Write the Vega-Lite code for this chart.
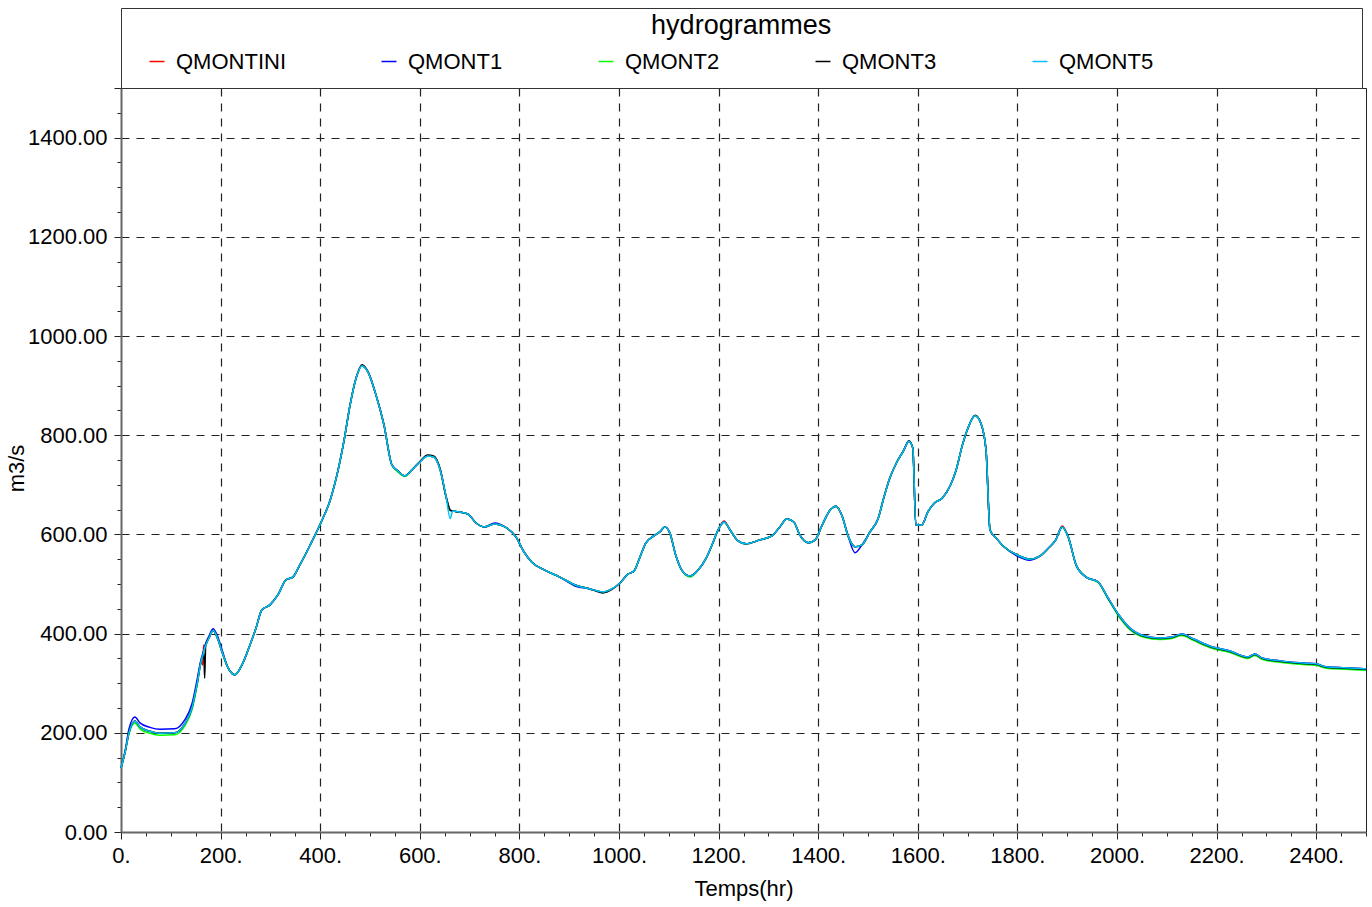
{
  "$schema": "https://vega.github.io/schema/vega-lite/v6.json",
  "width": 1245,
  "height": 744,
  "autosize": {"type": "none"},
  "padding": {"left": 121, "top": 88, "right": 6, "bottom": 75},
  "background": "white",
  "data": {"values": [
    {"t":0,"QMONTINI":129,"QMONT1":129,"QMONT2":129,"QMONT3":129,"QMONT5":129},
    {"t":8,"QMONTINI":160,"QMONT1":162,"QMONT2":160,"QMONT3":160,"QMONT5":160},
    {"t":16,"QMONTINI":200,"QMONT1":208,"QMONT2":198,"QMONT3":200,"QMONT5":200},
    {"t":28,"QMONTINI":224,"QMONT1":232,"QMONT2":220,"QMONT3":224,"QMONT5":224},
    {"t":38,"QMONTINI":212,"QMONT1":220,"QMONT2":208,"QMONT3":212,"QMONT5":212},
    {"t":58,"QMONTINI":203,"QMONT1":211,"QMONT2":199,"QMONT3":203,"QMONT5":203},
    {"t":78,"QMONTINI":199,"QMONT1":207,"QMONT2":195,"QMONT3":199,"QMONT5":199},
    {"t":108,"QMONTINI":200,"QMONT1":208,"QMONT2":196,"QMONT3":200,"QMONT5":200},
    {"t":128,"QMONTINI":218,"QMONT1":226,"QMONT2":214,"QMONT3":218,"QMONT5":218},
    {"t":143,"QMONTINI":252,"QMONT1":260,"QMONT2":248,"QMONT3":252,"QMONT5":252},
    {"t":153,"QMONTINI":300,"QMONT1":308,"QMONT2":296,"QMONT3":300,"QMONT5":300},
    {"t":161,"QMONTINI":345,"QMONT1":349,"QMONT2":345,"QMONT3":345,"QMONT5":345},
    {"t":164,"QMONTINI":336,"QMONT1":359,"QMONT2":355,"QMONT3":355,"QMONT5":355},
    {"t":166,"QMONTINI":377,"QMONT1":366,"QMONT2":362,"QMONT3":362,"QMONT5":362},
    {"t":168,"QMONTINI":370,"QMONT1":374,"QMONT2":370,"QMONT3":310,"QMONT5":370},
    {"t":170,"QMONTINI":376,"QMONT1":380,"QMONT2":376,"QMONT3":376,"QMONT5":376},
    {"t":177,"QMONTINI":392,"QMONT1":396,"QMONT2":392,"QMONT3":392,"QMONT5":392},
    {"t":185,"QMONTINI":406,"QMONT1":410,"QMONT2":406,"QMONT3":406,"QMONT5":406},
    {"t":193,"QMONTINI":393,"QMONT1":397,"QMONT2":393,"QMONT3":393,"QMONT5":393},
    {"t":203,"QMONTINI":363,"QMONT1":367,"QMONT2":363,"QMONT3":363,"QMONT5":363},
    {"t":215,"QMONTINI":331,"QMONT1":331,"QMONT2":331,"QMONT3":331,"QMONT5":331},
    {"t":229,"QMONTINI":317,"QMONT1":317,"QMONT2":317,"QMONT3":317,"QMONT5":317},
    {"t":243,"QMONTINI":337,"QMONT1":337,"QMONT2":337,"QMONT3":337,"QMONT5":337},
    {"t":259,"QMONTINI":377,"QMONT1":377,"QMONT2":377,"QMONT3":377,"QMONT5":377},
    {"t":271,"QMONTINI":411,"QMONT1":411,"QMONT2":411,"QMONT3":411,"QMONT5":411},
    {"t":283,"QMONTINI":448,"QMONT1":448,"QMONT2":448,"QMONT3":448,"QMONT5":448},
    {"t":299,"QMONTINI":458,"QMONT1":458,"QMONT2":458,"QMONT3":458,"QMONT5":458},
    {"t":315,"QMONTINI":478,"QMONT1":478,"QMONT2":478,"QMONT3":478,"QMONT5":478},
    {"t":331,"QMONTINI":508,"QMONT1":508,"QMONT2":508,"QMONT3":508,"QMONT5":508},
    {"t":345,"QMONTINI":514,"QMONT1":514,"QMONT2":514,"QMONT3":514,"QMONT5":514},
    {"t":359,"QMONTINI":538,"QMONT1":538,"QMONT2":538,"QMONT3":538,"QMONT5":538},
    {"t":380,"QMONTINI":579,"QMONT1":579,"QMONT2":579,"QMONT3":579,"QMONT5":579},
    {"t":402,"QMONTINI":625,"QMONT1":625,"QMONT2":625,"QMONT3":625,"QMONT5":625},
    {"t":420,"QMONTINI":669,"QMONT1":669,"QMONT2":669,"QMONT3":669,"QMONT5":669},
    {"t":436,"QMONTINI":730,"QMONT1":730,"QMONT2":730,"QMONT3":730,"QMONT5":730},
    {"t":448,"QMONTINI":790,"QMONT1":790,"QMONT2":790,"QMONT3":790,"QMONT5":790},
    {"t":460,"QMONTINI":861,"QMONT1":861,"QMONT2":861,"QMONT3":861,"QMONT5":861},
    {"t":472,"QMONTINI":915,"QMONT1":915,"QMONT2":915,"QMONT3":915,"QMONT5":915},
    {"t":484,"QMONTINI":940,"QMONT1":940,"QMONT2":940,"QMONT3":942,"QMONT5":940},
    {"t":496,"QMONTINI":927,"QMONT1":927,"QMONT2":927,"QMONT3":928,"QMONT5":927},
    {"t":512,"QMONTINI":881,"QMONT1":881,"QMONT2":881,"QMONT3":881,"QMONT5":881},
    {"t":528,"QMONTINI":821,"QMONT1":821,"QMONT2":821,"QMONT3":821,"QMONT5":821},
    {"t":544,"QMONTINI":740,"QMONT1":740,"QMONT2":740,"QMONT3":740,"QMONT5":740},
    {"t":556,"QMONTINI":728,"QMONT1":728,"QMONT2":726,"QMONT3":728,"QMONT5":728},
    {"t":570,"QMONTINI":718,"QMONT1":718,"QMONT2":717,"QMONT3":718,"QMONT5":718},
    {"t":584,"QMONTINI":730,"QMONT1":730,"QMONT2":730,"QMONT3":730,"QMONT5":730},
    {"t":600,"QMONTINI":746,"QMONT1":746,"QMONT2":746,"QMONT3":747,"QMONT5":746},
    {"t":616,"QMONTINI":758,"QMONT1":758,"QMONT2":758,"QMONT3":760,"QMONT5":758},
    {"t":628,"QMONTINI":756,"QMONT1":756,"QMONT2":756,"QMONT3":758,"QMONT5":756},
    {"t":641,"QMONTINI":730,"QMONT1":730,"QMONT2":730,"QMONT3":732,"QMONT5":730},
    {"t":653,"QMONTINI":675,"QMONT1":675,"QMONT2":675,"QMONT3":675,"QMONT5":675},
    {"t":661,"QMONTINI":649,"QMONT1":649,"QMONT2":649,"QMONT3":649,"QMONT5":632},
    {"t":666,"QMONTINI":647,"QMONT1":647,"QMONT2":647,"QMONT3":647,"QMONT5":647},
    {"t":681,"QMONTINI":645,"QMONT1":645,"QMONT2":645,"QMONT3":645,"QMONT5":645},
    {"t":697,"QMONTINI":641,"QMONT1":641,"QMONT2":641,"QMONT3":641,"QMONT5":641},
    {"t":713,"QMONTINI":623,"QMONT1":623,"QMONT2":623,"QMONT3":623,"QMONT5":623},
    {"t":729,"QMONTINI":615,"QMONT1":615,"QMONT2":615,"QMONT3":615,"QMONT5":615},
    {"t":751,"QMONTINI":621,"QMONT1":623,"QMONT2":621,"QMONT3":621,"QMONT5":621},
    {"t":771,"QMONTINI":615,"QMONT1":615,"QMONT2":615,"QMONT3":615,"QMONT5":615},
    {"t":793,"QMONTINI":595,"QMONT1":595,"QMONT2":595,"QMONT3":595,"QMONT5":595},
    {"t":809,"QMONTINI":565,"QMONT1":565,"QMONT2":565,"QMONT3":565,"QMONT5":565},
    {"t":825,"QMONTINI":544,"QMONT1":544,"QMONT2":544,"QMONT3":544,"QMONT5":544},
    {"t":851,"QMONTINI":528,"QMONT1":528,"QMONT2":528,"QMONT3":528,"QMONT5":528},
    {"t":881,"QMONTINI":514,"QMONT1":514,"QMONT2":514,"QMONT3":514,"QMONT5":514},
    {"t":912,"QMONTINI":498,"QMONT1":496,"QMONT2":498,"QMONT3":498,"QMONT5":498},
    {"t":942,"QMONTINI":490,"QMONT1":490,"QMONT2":490,"QMONT3":490,"QMONT5":490},
    {"t":968,"QMONTINI":484,"QMONT1":484,"QMONT2":484,"QMONT3":482,"QMONT5":484},
    {"t":986,"QMONTINI":490,"QMONT1":490,"QMONT2":490,"QMONT3":489,"QMONT5":490},
    {"t":1002,"QMONTINI":502,"QMONT1":502,"QMONT2":502,"QMONT3":502,"QMONT5":502},
    {"t":1018,"QMONTINI":520,"QMONT1":520,"QMONT2":520,"QMONT3":520,"QMONT5":520},
    {"t":1030,"QMONTINI":526,"QMONT1":526,"QMONT2":526,"QMONT3":526,"QMONT5":526},
    {"t":1042,"QMONTINI":554,"QMONT1":554,"QMONT2":554,"QMONT3":554,"QMONT5":554},
    {"t":1054,"QMONTINI":583,"QMONT1":583,"QMONT2":583,"QMONT3":583,"QMONT5":583},
    {"t":1070,"QMONTINI":597,"QMONT1":597,"QMONT2":597,"QMONT3":597,"QMONT5":597},
    {"t":1082,"QMONTINI":605,"QMONT1":605,"QMONT2":605,"QMONT3":605,"QMONT5":605},
    {"t":1092,"QMONTINI":615,"QMONT1":615,"QMONT2":615,"QMONT3":615,"QMONT5":615},
    {"t":1102,"QMONTINI":603,"QMONT1":603,"QMONT2":603,"QMONT3":603,"QMONT5":603},
    {"t":1114,"QMONTINI":558,"QMONT1":558,"QMONT2":558,"QMONT3":558,"QMONT5":558},
    {"t":1126,"QMONTINI":528,"QMONT1":528,"QMONT2":528,"QMONT3":528,"QMONT5":528},
    {"t":1143,"QMONTINI":516,"QMONT1":516,"QMONT2":514,"QMONT3":516,"QMONT5":516},
    {"t":1159,"QMONTINI":528,"QMONT1":528,"QMONT2":528,"QMONT3":528,"QMONT5":528},
    {"t":1175,"QMONTINI":552,"QMONT1":552,"QMONT2":552,"QMONT3":552,"QMONT5":552},
    {"t":1187,"QMONTINI":579,"QMONT1":579,"QMONT2":579,"QMONT3":579,"QMONT5":579},
    {"t":1199,"QMONTINI":609,"QMONT1":609,"QMONT2":609,"QMONT3":609,"QMONT5":609},
    {"t":1211,"QMONTINI":627,"QMONT1":625,"QMONT2":625,"QMONT3":625,"QMONT5":625},
    {"t":1223,"QMONTINI":609,"QMONT1":609,"QMONT2":609,"QMONT3":609,"QMONT5":609},
    {"t":1239,"QMONTINI":587,"QMONT1":587,"QMONT2":587,"QMONT3":587,"QMONT5":587},
    {"t":1255,"QMONTINI":581,"QMONT1":581,"QMONT2":581,"QMONT3":581,"QMONT5":581},
    {"t":1283,"QMONTINI":589,"QMONT1":589,"QMONT2":589,"QMONT3":589,"QMONT5":589},
    {"t":1307,"QMONTINI":597,"QMONT1":597,"QMONT2":597,"QMONT3":597,"QMONT5":597},
    {"t":1323,"QMONTINI":615,"QMONT1":615,"QMONT2":615,"QMONT3":615,"QMONT5":615},
    {"t":1337,"QMONTINI":631,"QMONT1":631,"QMONT2":631,"QMONT3":631,"QMONT5":631},
    {"t":1351,"QMONTINI":625,"QMONT1":625,"QMONT2":625,"QMONT3":625,"QMONT5":625},
    {"t":1363,"QMONTINI":599,"QMONT1":599,"QMONT2":599,"QMONT3":599,"QMONT5":599},
    {"t":1380,"QMONTINI":583,"QMONT1":583,"QMONT2":583,"QMONT3":583,"QMONT5":583},
    {"t":1394,"QMONTINI":589,"QMONT1":589,"QMONT2":589,"QMONT3":589,"QMONT5":589},
    {"t":1408,"QMONTINI":619,"QMONT1":619,"QMONT2":619,"QMONT3":619,"QMONT5":619},
    {"t":1424,"QMONTINI":649,"QMONT1":649,"QMONT2":649,"QMONT3":649,"QMONT5":649},
    {"t":1436,"QMONTINI":657,"QMONT1":657,"QMONT2":657,"QMONT3":657,"QMONT5":657},
    {"t":1448,"QMONTINI":637,"QMONT1":637,"QMONT2":637,"QMONT3":637,"QMONT5":637},
    {"t":1460,"QMONTINI":597,"QMONT1":597,"QMONT2":597,"QMONT3":597,"QMONT5":597},
    {"t":1474,"QMONTINI":575,"QMONT1":563,"QMONT2":575,"QMONT3":575,"QMONT5":575},
    {"t":1488,"QMONTINI":579,"QMONT1":579,"QMONT2":579,"QMONT3":579,"QMONT5":579},
    {"t":1504,"QMONTINI":605,"QMONT1":605,"QMONT2":605,"QMONT3":605,"QMONT5":605},
    {"t":1520,"QMONTINI":631,"QMONT1":631,"QMONT2":631,"QMONT3":631,"QMONT5":631},
    {"t":1532,"QMONTINI":675,"QMONT1":675,"QMONT2":675,"QMONT3":675,"QMONT5":675},
    {"t":1544,"QMONTINI":714,"QMONT1":714,"QMONT2":714,"QMONT3":714,"QMONT5":714},
    {"t":1558,"QMONTINI":746,"QMONT1":746,"QMONT2":746,"QMONT3":746,"QMONT5":746},
    {"t":1572,"QMONTINI":770,"QMONT1":770,"QMONT2":770,"QMONT3":770,"QMONT5":770},
    {"t":1582,"QMONTINI":788,"QMONT1":788,"QMONT2":788,"QMONT3":789,"QMONT5":788},
    {"t":1590,"QMONTINI":774,"QMONT1":774,"QMONT2":774,"QMONT3":774,"QMONT5":774},
    {"t":1596,"QMONTINI":619,"QMONT1":619,"QMONT2":619,"QMONT3":619,"QMONT5":619},
    {"t":1608,"QMONTINI":619,"QMONT1":619,"QMONT2":619,"QMONT3":619,"QMONT5":619},
    {"t":1620,"QMONTINI":645,"QMONT1":645,"QMONT2":645,"QMONT3":645,"QMONT5":645},
    {"t":1633,"QMONTINI":663,"QMONT1":663,"QMONT2":663,"QMONT3":663,"QMONT5":663},
    {"t":1649,"QMONTINI":673,"QMONT1":673,"QMONT2":673,"QMONT3":673,"QMONT5":673},
    {"t":1665,"QMONTINI":698,"QMONT1":698,"QMONT2":698,"QMONT3":698,"QMONT5":698},
    {"t":1677,"QMONTINI":730,"QMONT1":730,"QMONT2":730,"QMONT3":730,"QMONT5":730},
    {"t":1689,"QMONTINI":778,"QMONT1":778,"QMONT2":778,"QMONT3":778,"QMONT5":778},
    {"t":1701,"QMONTINI":815,"QMONT1":815,"QMONT2":815,"QMONT3":815,"QMONT5":815},
    {"t":1715,"QMONTINI":839,"QMONT1":839,"QMONT2":839,"QMONT3":840,"QMONT5":839},
    {"t":1727,"QMONTINI":823,"QMONT1":823,"QMONT2":823,"QMONT3":823,"QMONT5":823},
    {"t":1737,"QMONTINI":770,"QMONT1":770,"QMONT2":770,"QMONT3":770,"QMONT5":770},
    {"t":1745,"QMONTINI":609,"QMONT1":609,"QMONT2":609,"QMONT3":609,"QMONT5":609},
    {"t":1757,"QMONTINI":593,"QMONT1":593,"QMONT2":593,"QMONT3":593,"QMONT5":593},
    {"t":1773,"QMONTINI":575,"QMONT1":575,"QMONT2":575,"QMONT3":575,"QMONT5":575},
    {"t":1797,"QMONTINI":560,"QMONT1":558,"QMONT2":560,"QMONT3":560,"QMONT5":560},
    {"t":1825,"QMONTINI":550,"QMONT1":548,"QMONT2":550,"QMONT3":550,"QMONT5":550},
    {"t":1845,"QMONTINI":556,"QMONT1":556,"QMONT2":556,"QMONT3":556,"QMONT5":556},
    {"t":1861,"QMONTINI":571,"QMONT1":571,"QMONT2":571,"QMONT3":571,"QMONT5":571},
    {"t":1877,"QMONTINI":589,"QMONT1":589,"QMONT2":589,"QMONT3":589,"QMONT5":589},
    {"t":1890,"QMONTINI":617,"QMONT1":615,"QMONT2":615,"QMONT3":615,"QMONT5":615},
    {"t":1902,"QMONTINI":595,"QMONT1":595,"QMONT2":595,"QMONT3":595,"QMONT5":595},
    {"t":1918,"QMONTINI":538,"QMONT1":538,"QMONT2":538,"QMONT3":538,"QMONT5":538},
    {"t":1938,"QMONTINI":514,"QMONT1":514,"QMONT2":514,"QMONT3":514,"QMONT5":514},
    {"t":1962,"QMONTINI":504,"QMONT1":504,"QMONT2":503,"QMONT3":504,"QMONT5":504},
    {"t":1982,"QMONTINI":472,"QMONT1":472,"QMONT2":470,"QMONT3":471,"QMONT5":472},
    {"t":2002,"QMONTINI":440,"QMONT1":440,"QMONT2":437,"QMONT3":439,"QMONT5":440},
    {"t":2026,"QMONTINI":411,"QMONT1":411,"QMONT2":408,"QMONT3":410,"QMONT5":411},
    {"t":2056,"QMONTINI":395,"QMONT1":395,"QMONT2":392,"QMONT3":394,"QMONT5":395},
    {"t":2086,"QMONTINI":391,"QMONT1":391,"QMONT2":388,"QMONT3":390,"QMONT5":391},
    {"t":2110,"QMONTINI":393,"QMONT1":393,"QMONT2":390,"QMONT3":392,"QMONT5":393},
    {"t":2130,"QMONTINI":399,"QMONT1":399,"QMONT2":396,"QMONT3":398,"QMONT5":399},
    {"t":2154,"QMONTINI":389,"QMONT1":389,"QMONT2":386,"QMONT3":388,"QMONT5":389},
    {"t":2186,"QMONTINI":375,"QMONT1":375,"QMONT2":372,"QMONT3":374,"QMONT5":375},
    {"t":2227,"QMONTINI":365,"QMONT1":365,"QMONT2":362,"QMONT3":364,"QMONT5":365},
    {"t":2263,"QMONTINI":353,"QMONT1":353,"QMONT2":350,"QMONT3":352,"QMONT5":353},
    {"t":2277,"QMONTINI":359,"QMONT1":359,"QMONT2":356,"QMONT3":358,"QMONT5":359},
    {"t":2291,"QMONTINI":351,"QMONT1":351,"QMONT2":348,"QMONT3":350,"QMONT5":351},
    {"t":2327,"QMONTINI":345,"QMONT1":345,"QMONT2":342,"QMONT3":344,"QMONT5":345},
    {"t":2367,"QMONTINI":341,"QMONT1":341,"QMONT2":338,"QMONT3":340,"QMONT5":341},
    {"t":2400,"QMONTINI":339,"QMONT1":339,"QMONT2":336,"QMONT3":338,"QMONT5":339},
    {"t":2420,"QMONTINI":333,"QMONT1":333,"QMONT2":330,"QMONT3":332,"QMONT5":333},
    {"t":2458,"QMONTINI":331,"QMONT1":331,"QMONT2":328,"QMONT3":330,"QMONT5":331},
    {"t":2500,"QMONTINI":329,"QMONT1":329,"QMONT2":326,"QMONT3":328,"QMONT5":329}
  ]},
  "resolve": {"axis": {"x": "independent", "y": "independent"}},
  "layer": [
    {
      "transform": [{"fold": ["QMONTINI", "QMONT1", "QMONT2", "QMONT3", "QMONT5"], "as": ["serie", "Q"]}],
      "mark": {"type": "line", "strokeWidth": 1.5, "interpolate": "monotone"},
      "encoding": {
        "x": {
          "field": "t", "type": "quantitative",
          "scale": {"domain": [0, 2500], "nice": false, "zero": false},
          "axis": {
            "orient": "bottom",
            "title": "Temps(hr)",
            "values": [0,50,100,150,200,250,300,350,400,450,500,550,600,650,700,750,800,850,900,950,1000,1050,1100,1150,1200,1250,1300,1350,1400,1450,1500,1550,1600,1650,1700,1750,1800,1850,1900,1950,2000,2050,2100,2150,2200,2250,2300,2350,2400,2450,2500],
            "labelExpr": "datum.value % 200 == 0 ? datum.value + '.' : ''",
            "labelOverlap": false,
            "labelFlush": false,
            "labelPadding": 6,
            "titlePadding": 12,
            "tickSize": {"condition": {"test": "datum.value % 200 == 0", "value": 7}, "value": 4},
            "gridOpacity": {"condition": {"test": "datum.value % 200 == 0 && datum.value > 0", "value": 1}, "value": 0}
          }
        },
        "y": {
          "field": "Q", "type": "quantitative",
          "scale": {"domain": [0, 1500], "nice": false, "zero": true},
          "axis": {
            "orient": "left",
            "title": "m3/s",
            "titleY": 380,
            "titleX": -93,
            "values": [0,50,100,150,200,250,300,350,400,450,500,550,600,650,700,750,800,850,900,950,1000,1050,1100,1150,1200,1250,1300,1350,1400,1450,1500],
            "labelExpr": "datum.value % 200 == 0 ? format(datum.value, '.2f') : ''",
            "labelOverlap": false,
            "labelFlush": false,
            "labelPadding": 7,
            "titlePadding": 4,
            "tickSize": {"condition": {"test": "datum.value % 200 == 0 || datum.value == 1500", "value": 7}, "value": 4},
            "gridOpacity": {"condition": {"test": "datum.value % 200 == 0 && datum.value > 0", "value": 1}, "value": 0}
          }
        },
        "color": {
          "field": "serie", "type": "nominal",
          "scale": {"domain": ["QMONTINI", "QMONT1", "QMONT2", "QMONT3", "QMONT5"], "range": ["#ff0000", "#0000ff", "#00ff00", "#000000", "#00bfff"]},
          "legend": {
            "orient": "none",
            "legendX": 0,
            "legendY": -80,
            "direction": "horizontal",
            "columns": 5,
            "title": "\u200b\u00a0\u00a0\u00a0\u00a0\u00a0\u00a0\u00a0\u00a0\u00a0\u00a0\u00a0\u00a0\u00a0\u00a0\u00a0\u00a0\u00a0\u00a0\u00a0\u00a0\u00a0\u00a0\u00a0\u00a0\u00a0\u00a0\u00a0\u00a0\u00a0\u00a0\u00a0\u00a0\u00a0\u00a0\u00a0\u00a0\u00a0\u00a0\u00a0\u00a0\u00a0\u00a0\u00a0\u00a0\u00a0\u00a0\u00a0\u00a0\u00a0\u00a0\u00a0\u00a0\u00a0\u00a0\u00a0\u00a0\u00a0\u00a0\u00a0\u00a0\u00a0\u00a0\u00a0\u00a0\u00a0\u00a0\u00a0\u00a0\u00a0\u00a0hydrogrammes\u00a0\u00a0\u00a0\u00a0\u00a0\u00a0\u00a0\u00a0\u00a0\u00a0\u00a0\u00a0\u00a0\u00a0\u00a0\u00a0\u00a0\u00a0\u00a0\u00a0\u00a0\u00a0\u00a0\u00a0\u00a0\u00a0\u00a0\u00a0\u00a0\u00a0\u00a0\u00a0\u00a0\u00a0\u00a0\u00a0\u00a0\u00a0\u00a0\u00a0\u00a0\u00a0\u00a0\u00a0\u00a0\u00a0\u00a0\u00a0\u00a0\u00a0\u00a0\u00a0\u00a0\u00a0\u00a0\u00a0\u00a0\u00a0\u00a0\u00a0\u00a0\u00a0\u00a0\u00a0\u00a0\u00a0\u00a0\u00a0\u00a0\u00a0\u200b",
            "titleOrient": "top",
            "titleAnchor": "start",
            "titleFontSize": 27,
            "titleFontWeight": "normal",
            "titleColor": "#000",
            "titleLimit": 3000,
            "titlePadding": 0,
            "labelFontSize": 22,
            "labelColor": "#000",
            "labelLimit": 400,
            "labelOffset": 8,
            "symbolType": "stroke",
            "symbolSize": 225,
            "symbolStrokeWidth": 1.5,
            "symbolOffset": 20,
            "columnPadding": 72,
            "clipHeight": 43,
            "padding": 5,
            "strokeColor": "#333",
            "fillColor": "white"
          }
        }
      }
    },
    {
      "mark": {"type": "line", "opacity": 0},
      "encoding": {
        "x": {
          "field": "t", "type": "quantitative",
          "axis": {
            "orient": "top", "title": null, "labels": false, "domain": false, "grid": false,
            "values": [0,200,400,600,800,1000,1200,1400,1600,1800,2000,2200,2400],
            "tickSize": -7
          }
        },
        "y": {"field": "QMONT5", "type": "quantitative", "axis": null}
      }
    }
  ],
  "config": {
    "font": "Liberation Sans",
    "view": {"stroke": "#222", "strokeWidth": 1},
    "axis": {
      "labelFontSize": 22,
      "titleFontSize": 22,
      "titleFontWeight": "normal",
      "labelColor": "#000",
      "titleColor": "#000",
      "domainColor": "#666",
      "domainWidth": 2,
      "tickColor": "#222",
      "gridColor": "#222",
      "gridDash": [8, 7],
      "gridWidth": 1.2
    }
  }
}
